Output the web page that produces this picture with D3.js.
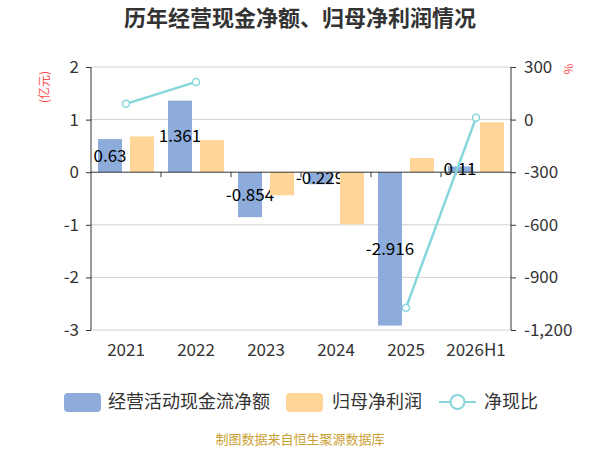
<!DOCTYPE html>
<html>
<head>
<meta charset="utf-8">
<script src="https://cdn.jsdelivr.net/npm/d3@7"></script>
<style>
  body { margin: 0; background: #fff; }
  svg text { font-family: "Noto Sans CJK SC", "Noto Sans", sans-serif; }
</style>
</head>
<body>
<div id="chart"></div>
<script>
// categories and series
var years = ['2021', '2022', '2023', '2024', '2025', '2026H1'];
var cashFlow = [0.63, 1.361, -0.854, -0.229, -2.916, 0.11];   // 经营活动现金流净额 (亿元)
var netProfit = [0.68, 0.61, -0.44, -0.99, 0.27, 0.95];       // 归母净利润 (亿元)
var cashRatio = [90, 215, null, null, -1073, 10];              // 净现比 (%)
var leftTicks = [2, 1, 0, -1, -2, -3];
var rightTicks = [300, 0, -300, -600, -900, -1200];

var colors = { cash: '#8eacdb', profit: '#ffd697', ratio: '#86d6db' };

// plain hyphen for negatives, like the source chart
var fmt = d3.formatLocale({ decimal: '.', thousands: ',', grouping: [3], currency: ['', ''], minus: '-' });

var width = 600, height = 450;
var margin = { top: 67, right: 89, bottom: 120, left: 91 };

var svg = d3.select('#chart').append('svg')
    .attr('width', width)
    .attr('height', height);

// title
svg.append('text')
    .attr('x', 300).attr('y', 26)
    .attr('text-anchor', 'middle')
    .style('font-size', '22px').style('font-weight', 'bold')
    .style('fill', '#333')
    .text('历年经营现金净额、归母净利润情况');

var x = d3.scaleBand().domain(years).range([margin.left, width - margin.right]);
var inner = d3.scaleBand().domain(['cash', 'profit'])
    .range([0, x.bandwidth()]).paddingInner(0.25).paddingOuter(0.21875);
var y = d3.scaleLinear().domain([-3, 2]).range([height - margin.bottom, margin.top]);
var y2 = d3.scaleLinear().domain([-1200, 300]).range([height - margin.bottom, margin.top]);

// grid lines
svg.append('g').selectAll('line')
    .data(leftTicks.filter(function (d) { return d !== 0; }))
    .enter().append('line')
    .attr('x1', margin.left).attr('x2', width - margin.right)
    .attr('y1', function (d) { return y(d); })
    .attr('y2', function (d) { return y(d); })
    .style('stroke', '#d0d0d0').style('stroke-width', 1);

// bars
var groups = svg.append('g').selectAll('g')
    .data(years).enter().append('g')
    .attr('transform', function (d) { return 'translate(' + x(d) + ',0)'; });

groups.append('rect')
    .attr('x', inner('cash'))
    .attr('width', inner.bandwidth())
    .attr('y', function (d, i) { return y(Math.max(0, cashFlow[i])); })
    .attr('height', function (d, i) { return Math.abs(y(cashFlow[i]) - y(0)); })
    .style('fill', colors.cash);

// value labels for cash flow bars (profit bars are drawn over them)
groups.append('text')
    .attr('x', inner('cash') + inner.bandwidth() / 2)
    .attr('y', function (d, i) { return (y(cashFlow[i]) + y(0)) / 2; })
    .attr('dy', '0.35em')
    .attr('text-anchor', 'middle')
    .style('font-size', '17px').style('fill', '#000')
    .text(function (d, i) { return fmt.format('')(cashFlow[i]); });

groups.append('rect')
    .attr('x', inner('profit'))
    .attr('width', inner.bandwidth())
    .attr('y', function (d, i) { return y(Math.max(0, netProfit[i])); })
    .attr('height', function (d, i) { return Math.abs(y(netProfit[i]) - y(0)); })
    .style('fill', colors.profit);

// left axis
var leftAxis = d3.axisLeft(y).tickValues(leftTicks).tickSize(5).tickPadding(7)
    .tickFormat(fmt.format('d'));
var gl = svg.append('g').attr('transform', 'translate(' + margin.left + ',0)').call(leftAxis);
gl.select('.domain').attr('d', 'M0,' + y(2) + 'V' + y(-3)).style('stroke', '#333');
gl.selectAll('.tick line').style('stroke', '#333');
gl.selectAll('text').style('font-size', '17px').style('fill', '#333')
    .style('font-family', '"Noto Sans CJK SC", sans-serif');

// right axis
var rightAxis = d3.axisRight(y2).tickValues(rightTicks).tickSize(5).tickPadding(8)
    .tickFormat(fmt.format(','));
var gr = svg.append('g').attr('transform', 'translate(' + (width - margin.right) + ',0)').call(rightAxis);
gr.select('.domain').attr('d', 'M0,' + y2(300) + 'V' + y2(-1200)).style('stroke', '#333');
gr.selectAll('.tick line').style('stroke', '#333');
gr.selectAll('text').style('font-size', '17px').style('fill', '#333')
    .style('font-family', '"Noto Sans CJK SC", sans-serif');

// category axis on zero line
var gx = svg.append('g').attr('transform', 'translate(0,' + y(0) + ')');
gx.append('line')
    .attr('x1', margin.left).attr('x2', width - margin.right)
    .style('stroke', '#333');
gx.selectAll('.bt').data(years.slice(1)).enter().append('line')
    .attr('x1', function (d) { return x(d); }).attr('x2', function (d) { return x(d); })
    .attr('y1', 0).attr('y2', 5)
    .style('stroke', '#333');

svg.append('g').selectAll('text')
    .data(years).enter().append('text')
    .attr('x', function (d) { return x(d) + x.bandwidth() / 2; })
    .attr('y', 356)
    .attr('text-anchor', 'middle')
    .style('font-size', '17px').style('fill', '#333')
    .text(function (d) { return d; });

// axis names
svg.append('text')
    .attr('transform', 'translate(49,87) rotate(-90)')
    .attr('text-anchor', 'middle')
    .style('font-size', '12px').style('fill', '#ff4d4d')
    .text('(亿元)');
svg.append('text')
    .attr('transform', 'translate(564,69) rotate(90)')
    .attr('text-anchor', 'middle')
    .style('font-size', '12px').style('fill', '#ff4d4d')
    .text('%');

// ratio line
var line = d3.line()
    .defined(function (d) { return d !== null; })
    .x(function (d, i) { return x(years[i]) + x.bandwidth() / 2; })
    .y(function (d) { return y2(d); });

svg.append('path')
    .datum(cashRatio)
    .attr('d', line)
    .style('fill', 'none').style('stroke', colors.ratio).style('stroke-width', 2.5);

svg.append('g').selectAll('circle')
    .data(cashRatio.map(function (v, i) { return { v: v, year: years[i] }; })
        .filter(function (d) { return d.v !== null; }))
    .enter().append('circle')
    .attr('cx', function (d) { return x(d.year) + x.bandwidth() / 2; })
    .attr('cy', function (d) { return y2(d.v); })
    .attr('r', 3.5)
    .style('fill', '#fff').style('stroke', colors.ratio).style('stroke-width', 1.5);

// legend
var legend = svg.append('g').attr('transform', 'translate(0,402)');
legend.append('rect').attr('x', 64).attr('y', -9).attr('width', 37).attr('height', 19)
    .attr('rx', 4).style('fill', colors.cash);
legend.append('text').attr('x', 108).attr('dy', '0.35em')
    .style('font-size', '18px').style('fill', '#333').text('经营活动现金流净额');
legend.append('rect').attr('x', 286).attr('y', -9).attr('width', 37).attr('height', 19)
    .attr('rx', 4).style('fill', colors.profit);
legend.append('text').attr('x', 332).attr('dy', '0.35em')
    .style('font-size', '18px').style('fill', '#333').text('归母净利润');
legend.append('line').attr('x1', 439).attr('x2', 476)
    .style('stroke', colors.ratio).style('stroke-width', 2);
legend.append('circle').attr('cx', 457.5).attr('r', 7)
    .style('fill', '#fff').style('stroke', colors.ratio).style('stroke-width', 2);
legend.append('text').attr('x', 484).attr('dy', '0.35em')
    .style('font-size', '18px').style('fill', '#333').text('净现比');

// source note
svg.append('text')
    .attr('x', 300).attr('y', 444)
    .attr('text-anchor', 'middle')
    .style('font-size', '13px').style('fill', '#c9a032')
    .text('制图数据来自恒生聚源数据库');
</script>
</body>
</html>
